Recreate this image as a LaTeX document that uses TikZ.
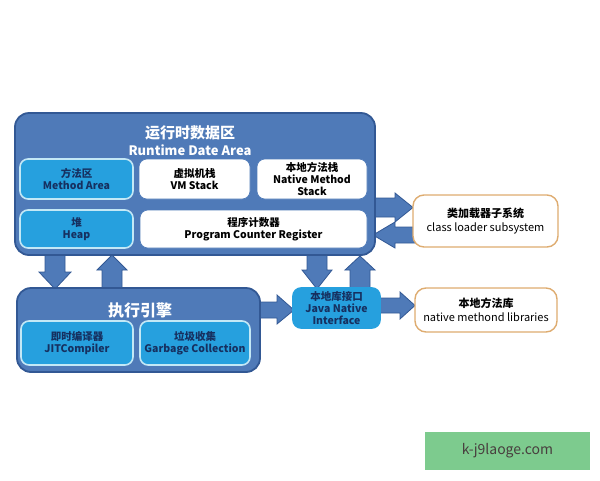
\documentclass[tikz,border=0pt]{standalone}
\usepackage{fontspec}
\setmainfont{Noto Sans CJK SC}
\definecolor{outerblue}{RGB}{79,122,184}
\definecolor{outeredge}{RGB}{50,88,148}
\definecolor{lightblue}{RGB}{38,160,222}
\definecolor{lightedge}{RGB}{195,232,246}
\definecolor{navy}{RGB}{22,48,96}
\definecolor{tan}{RGB}{222,172,112}
\definecolor{wmgreen}{RGB}{125,203,142}
\definecolor{wmtext}{RGB}{72,62,62}
\tikzset{
  outerbox/.style={draw=outeredge, line width=1.8pt, fill=outerblue, rounded corners=14pt},
  litebox/.style={draw=lightedge, line width=1.6pt, fill=lightblue, rounded corners=8pt, text=navy, font=\bfseries\fontsize{10.5}{12.5}\selectfont, align=center, inner sep=0pt},
  whitebox/.style={draw=outerblue, line width=0.6pt, fill=white, rounded corners=8pt, text=black, font=\bfseries\fontsize{10.5}{12.5}\selectfont, align=center, inner sep=0pt},
  sidebox/.style={draw=tan, line width=1.4pt, fill=white, rounded corners=11pt, text=black, font=\fontsize{11}{14}\selectfont, align=center, inner sep=0pt},
  barrow/.style={fill=outerblue, draw=outeredge, line width=0.8pt, line join=miter},
  titletext/.style={text=white, font=\bfseries\fontsize{15}{17}\selectfont, inner sep=0pt}
}
\begin{document}
\begin{tikzpicture}[x=1pt,y=-1pt]
\useasboundingbox (0,0) rectangle (600,480);
% block arrows (drawn below boxes)
\draw[barrow] (45,250)--(65,250)--(65,272)--(71,272)--(55,289)--(39,272)--(45,272)--cycle;
\draw[barrow] (102,293)--(102,270)--(97,270)--(112,255)--(127,270)--(122,270)--(122,293)--cycle;
\draw[barrow] (307,250)--(327,250)--(327,270)--(332,270)--(317,289)--(302,270)--(307,270)--cycle;
\draw[barrow] (350,293)--(350,270)--(345,270)--(360,256)--(375,270)--(370,270)--(370,293)--cycle;
\draw[barrow] (368,198)--(395,198)--(395,193)--(413,207.5)--(395,222)--(395,217)--(368,217)--cycle;
\draw[barrow] (418,227)--(395,227)--(395,222)--(373,235)--(395,248)--(395,243)--(418,243)--cycle;
\draw[barrow] (255,302)--(277,302)--(277,295)--(294,310)--(277,324)--(277,318)--(255,318)--cycle;
\draw[barrow] (375,298)--(400,298)--(400,292)--(415,305.5)--(400,319)--(400,313)--(375,313)--cycle;
% runtime data area
\node[outerbox, minimum width=360pt, minimum height=142pt] (rt) at (195,184) {};
\node[titletext] (rtcn) at (190,133) {运行时数据区};
\node[titletext, font=\bfseries\fontsize{13}{15}\selectfont] (rten) at (190,150) {Runtime Date Area};
\node[litebox, minimum width=113pt, minimum height=40pt] (ma) at (76.5,179) {方法区\\Method Area};
\node[whitebox, minimum width=111pt, minimum height=40pt] (vm) at (194.5,179) {虚拟机栈\\VM Stack};
\node[whitebox, minimum width=110pt, minimum height=40pt, font=\bfseries\fontsize{10.5}{12}\selectfont] (nms) at (312,179) {本地方法栈\\Native Method\\Stack};
\node[litebox, minimum width=113pt, minimum height=38pt] (heap) at (76.5,229) {堆\\Heap};
\node[whitebox, minimum width=227pt, minimum height=38pt] (pcr) at (253.5,229) {程序计数器\\Program Counter Register};
% execution engine
\node[outerbox, minimum width=243pt, minimum height=84pt] (ee) at (138.5,330) {};
\node[titletext, font=\bfseries\fontsize{16}{18}\selectfont] (eet) at (140,310) {执行引擎};
\node[litebox, minimum width=112pt, minimum height=44pt] (jit) at (77,343) {即时编译器\\JITCompiler};
\node[litebox, minimum width=110pt, minimum height=44pt] (gc) at (195,343) {垃圾收集\\Garbage Collection};
% JNI
\node[litebox, draw=lightblue, minimum width=87pt, minimum height=40pt, font=\bfseries\fontsize{10.5}{12}\selectfont] (jni) at (336.5,308) {本地库接口\\Java Native\\Interface};
% side boxes
\node[sidebox, minimum width=145pt, minimum height=52pt] (cl) at (485.5,221) {\textbf{类加载器子系统}\\class loader subsystem};
\node[sidebox, minimum width=142pt, minimum height=44pt] (nl) at (486,310) {\textbf{本地方法库}\\native methond libraries};
% watermark
\node[fill=wmgreen, minimum width=165pt, minimum height=38pt, text=wmtext, font=\fontsize{14}{16}\selectfont, inner sep=0pt] (wm) at (507.5,451) {k-j9laoge.com};
\end{tikzpicture}
\end{document}
